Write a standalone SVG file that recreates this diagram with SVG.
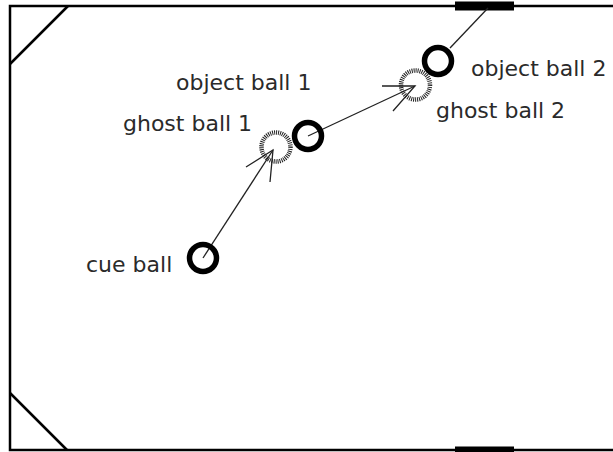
<svg xmlns="http://www.w3.org/2000/svg" width="613" height="452" viewBox="0 0 613 452">
  <style>
    .rail { fill: none; stroke: #000; stroke-width: 2.5; }
    .pocket { fill: none; stroke: #000; stroke-width: 9; }
    .ball { fill: none; stroke: #000; stroke-width: 5.5; }
    .ghost { fill: none; stroke: #222; stroke-width: 4.5; stroke-dasharray: 1 1; }
    .path { fill: none; stroke: #222; stroke-width: 1.3; }
    .label { font-family: "DejaVu Sans", sans-serif; font-size: 22px; fill: #2a2a2a; }
  </style>
  <rect width="613" height="452" fill="#fff"/>

  <!-- table rails and pockets -->
  <g id="table">
    <path class="rail" d="M614 6 H10 V450 H614"/>
    <line class="rail" x1="10" y1="64" x2="68" y2="6"/>
    <line class="rail" x1="10" y1="393" x2="67" y2="450"/>
    <line class="pocket" x1="455" y1="6" x2="514" y2="6"/>
    <line class="pocket" x1="455" y1="451" x2="514" y2="451"/>
  </g>

  <!-- shot paths -->
  <g id="connectors">
    <line class="path" x1="203" y1="258" x2="273" y2="150"/>
    <polyline class="path" points="246,167 273,150 270,182"/>
    <line class="path" x1="308" y1="136" x2="415" y2="86"/>
    <polyline class="path" points="382,86 415,86 393,111"/>
    <line class="path" x1="450" y1="48" x2="488" y2="8"/>
  </g>

  <g id="ghost-ball-1"><circle class="ghost" cx="276" cy="147" r="14.5"/></g>
  <g id="ghost-ball-2"><circle class="ghost" cx="415.5" cy="85" r="14.5"/></g>
  <g id="cue-ball"><circle class="ball" cx="203" cy="258" r="13.5"/></g>
  <g id="object-ball-1"><circle class="ball" cx="308" cy="136" r="13.5"/></g>
  <g id="object-ball-2"><circle class="ball" cx="438" cy="61" r="13.5"/></g>

  <g id="labels">
    <text class="label" x="176" y="90">object ball 1</text>
    <text class="label" x="123" y="131">ghost ball 1</text>
    <text class="label" x="471" y="76">object ball 2</text>
    <text class="label" x="436" y="118">ghost ball 2</text>
    <text class="label" x="86" y="272">cue ball</text>
  </g>
</svg>
